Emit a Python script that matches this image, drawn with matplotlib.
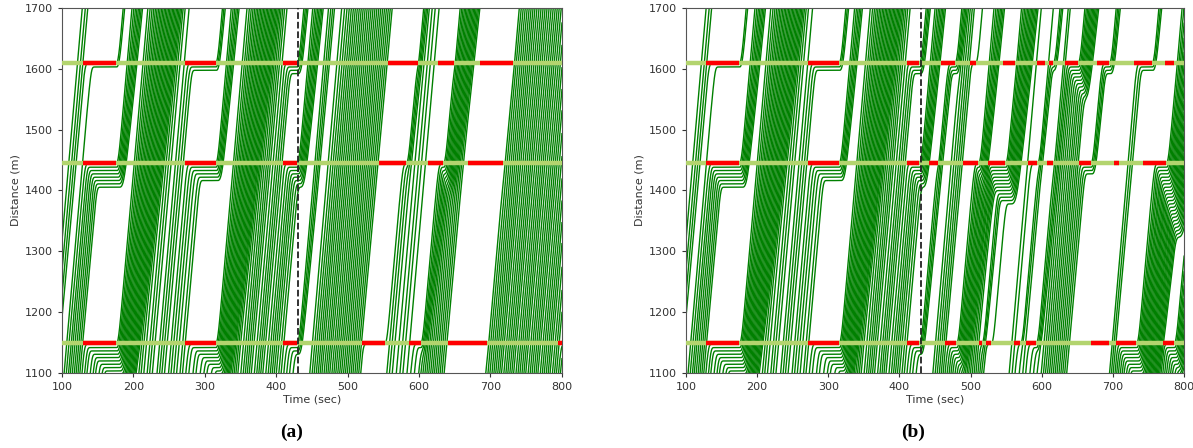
import numpy as np
import matplotlib
matplotlib.use("Agg")
import matplotlib.pyplot as plt

# ---------------- data ----------------
signal_positions = [1148, 1445, 1610]   # stop-line distances (m)

# red intervals (sec) for panel (a)
red_a_1148 = [(129, 176), (272, 315), (410, 429), (520, 552), (586, 602), (640, 695), (795, 800)]
red_a_1445 = [(129, 176), (272, 315), (410, 429), (544, 582), (612, 634), (669, 718)]
red_a_1610 = [(129, 176), (272, 315), (410, 429), (556, 598), (627, 649), (685, 731)]

# red intervals (sec) for panel (b)
red_b_1148 = [(128, 175), (272, 315), (410, 428), (464, 480), (512, 516), (521, 529), (561, 570),
              (578, 592), (669, 695), (704, 733), (771, 786)]
red_b_1445 = [(128, 175), (272, 315), (410, 428), (441, 454), (489, 511), (525, 549), (580, 594),
              (607, 616), (652, 669), (701, 709), (743, 775)]
red_b_1610 = [(128, 175), (272, 315), (410, 428), (458, 478), (499, 507), (545, 562), (594, 605),
              (610, 616), (633, 651), (677, 695), (729, 755), (773, 786)]

# free-flow times (sec) at which each vehicle would pass 1100 m
arrivals = [
    84, 86.5, 89, 91.5,
    103, 105, 108, 110, 113, 116, 118, 121, 123.5,
    127, 131, 134, 139, 143, 146, 151, 155, 158, 163, 167, 171,
    175, 178, 182, 185, 190, 193, 197, 201, 207, 210, 214, 219, 222, 226, 233, 236,
    239, 243, 249, 252, 256, 260, 265, 268,
    273, 277, 283, 287, 293, 298, 302, 308,
    313, 315.5, 318, 321, 324, 326.5, 329, 334, 337, 339.5, 342, 345, 350, 353, 355.5,
    358, 361, 364, 369, 372, 374.5, 377, 380, 385, 388, 390.5, 393, 396, 399, 403, 406,
    410, 414, 418, 423,
    447, 449.5, 452, 455, 457.5, 460, 462.5, 466, 468.5, 471, 473.5, 477, 479.5, 482,
    485, 487.5, 490, 493, 495.5, 498, 501, 503.5, 506, 509, 511.5, 514, 517,
    553, 558, 562, 568, 573, 577, 583, 588, 593,
    599, 601.5, 604, 607, 609.5, 612, 615, 617.5, 620, 623, 625.5, 628, 631, 634,
    693, 695.5, 698, 701, 703.5, 706, 709, 711.5, 714, 718, 720.5, 723, 726, 728.5,
    731, 735, 737.5, 740, 743, 745.5, 748, 752, 754.5, 757, 760, 762.5, 765, 769,
    771.5, 774, 777, 779.5, 782, 786, 788.5, 791, 794, 796.5, 799,
]

event_time = 430   # dashed marker

x_ticks = [100, 200, 300, 400, 500, 600, 700, 800]
y_ticks = [1100, 1200, 1300, 1400, 1500, 1600, 1700]

# ---------------- simple car-following (IDM) simulation ----------------
V0, T_HW, S0, A_MAX, B_COMF, L_VEH = 13.5, 0.9, 1.5, 2.6, 3.0, 4.0
DT = 0.1
X_START = 700.0


def idm(v, s, dv):
    s = np.maximum(s, 0.1)
    s_star = S0 + np.maximum(0.0, v * T_HW + v * dv / (2 * np.sqrt(A_MAX * B_COMF)))
    return A_MAX * (1 - (v / V0) ** 4 - (s_star / s) ** 2)


def simulate(arr, reds):
    arr = np.asarray(arr, float)
    n = len(arr)
    t_enter = arr - (1100 - X_START) / V0
    t0 = t_enter.min() - 1
    ts = np.arange(t0, 806, DT)
    sig = np.asarray(signal_positions, float)
    X = np.full(n, -1e6)
    V = np.zeros(n)
    entered = np.zeros(n, bool)
    hist = np.full((len(ts), n), np.nan)
    nxt = 0
    for k, t in enumerate(ts):
        while nxt < n and t_enter[nxt] <= t:
            if nxt > 0 and X[nxt - 1] - L_VEH - X_START < S0 + 4:
                break
            X[nxt] = X_START
            V[nxt] = V0 if nxt == 0 else min(V0, V[nxt - 1] + 2)
            entered[nxt] = True
            nxt += 1
        m = entered
        if not m.any():
            continue
        xl = np.r_[1e9, X[:-1]]
        vl = np.r_[V0, V[:-1]]
        acc = idm(V, xl - L_VEH - X, V - vl)
        is_red = np.array([any(a <= t < b for a, b in reds[p]) for p in signal_positions])
        j = np.searchsorted(sig, X, side="right")
        has = j < len(sig)
        jj = np.minimum(j, len(sig) - 1)
        gap = sig[jj] - X
        stop = has & is_red[jj] & (gap > V ** 2 / (2 * 4.5))
        acc_sig = idm(V, gap, V)
        acc = np.where(stop, np.minimum(acc, acc_sig), acc)
        acc = np.clip(acc, -9.0, A_MAX)
        Vn = np.maximum(V + acc * DT, 0.0)
        X = np.where(m, X + 0.5 * (V + Vn) * DT, X)
        V = np.where(m, Vn, V)
        hist[k] = np.where(m, X, np.nan)
    return ts, hist


reds_a = {1148: red_a_1148, 1445: red_a_1445, 1610: red_a_1610}
reds_b = {1148: red_b_1148, 1445: red_b_1445, 1610: red_b_1610}

# ---------------- drawing ----------------
fig = plt.figure(figsize=(11.93, 4.48), dpi=100)
ax_a = fig.add_axes([0.052, 0.1685, 0.419, 0.8135])
ax_b = fig.add_axes([0.575, 0.1685, 0.4175, 0.8135])

LIGHT_GREEN = "#b3d46e"

for ax, reds, cap, capx in [(ax_a, reds_a, "(a)", 0.244), (ax_b, reds_b, "(b)", 0.765)]:
    ts, hist = simulate(arrivals, reds)
    for i in range(hist.shape[1]):
        ax.plot(ts, hist[:, i], color="green", lw=1.0, zorder=2)
    for p in signal_positions:
        ax.hlines(p, 100, 800, color=LIGHT_GREEN, lw=3.2, zorder=3)
        for a, b in reds[p]:
            ax.hlines(p, a, b, color="red", lw=3.2, zorder=4)
    ax.axvline(event_time, color="#222222", ls="--", lw=1.3, zorder=5)
    ax.set_xlim(100, 800)
    ax.set_ylim(1100, 1700)
    ax.set_xticks(x_ticks)
    ax.set_yticks(y_ticks)
    ax.tick_params(labelsize=8, colors="#333333", length=3)
    for s in ax.spines.values():
        s.set_color("#555555")
    ax.set_xlabel("Time (sec)", fontsize=8, color="#333333", labelpad=2)
    ax.set_ylabel("Distance (m)", fontsize=8, color="#333333", labelpad=3)
    fig.text(capx, 0.035, cap, fontsize=14, fontweight="bold",
             family=["Liberation Serif", "DejaVu Serif"], ha="center", va="center")

fig.savefig("out.png", dpi=100)
